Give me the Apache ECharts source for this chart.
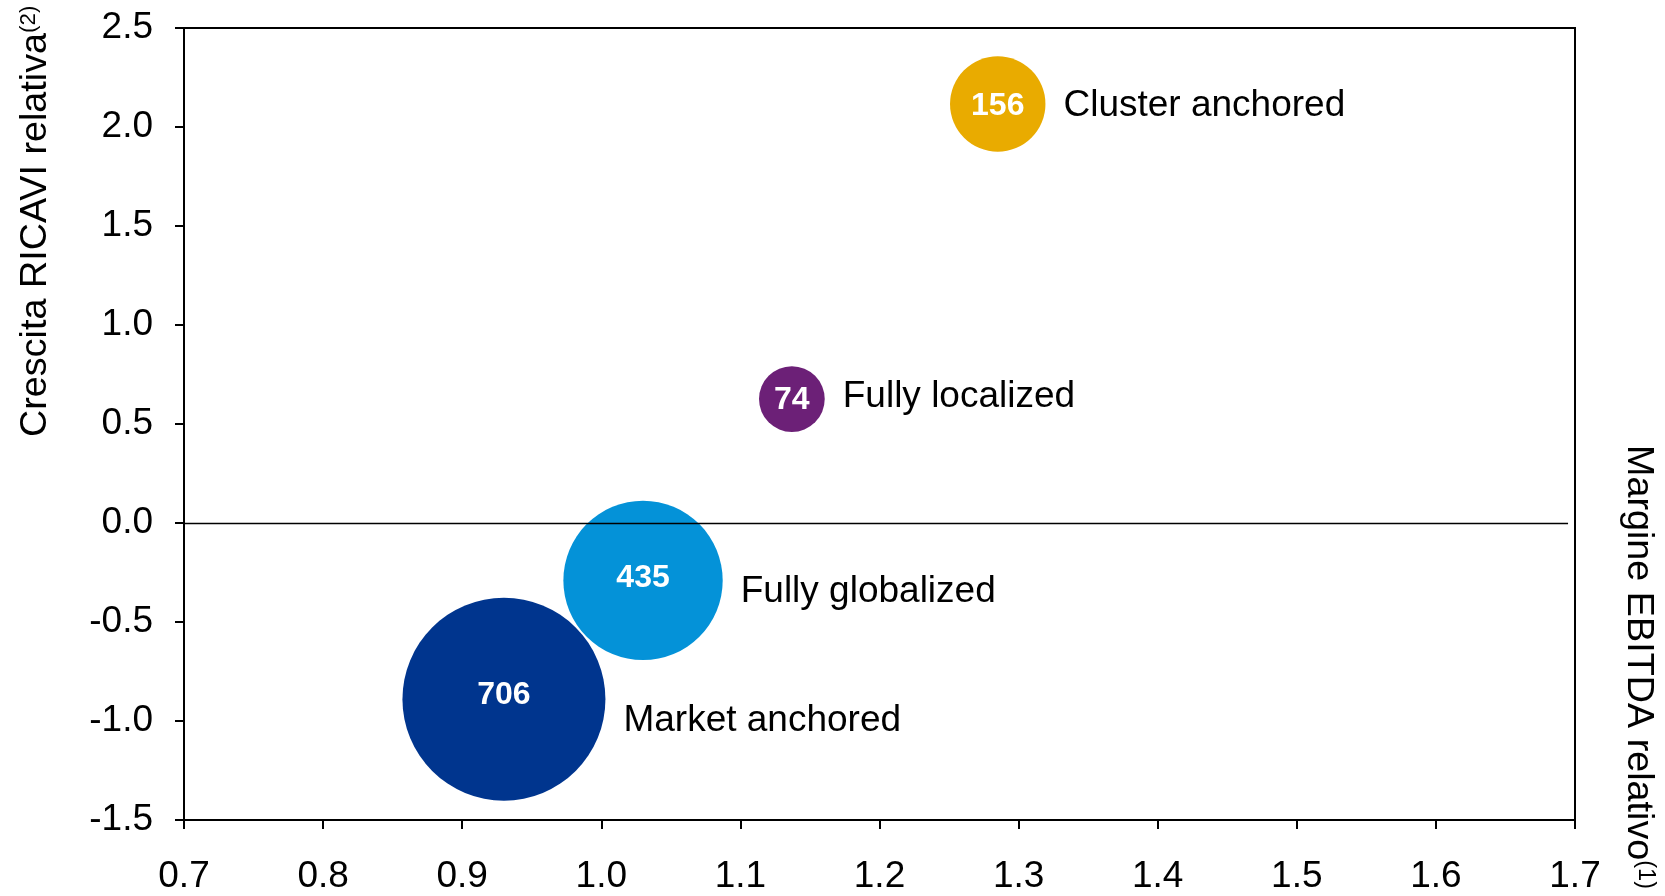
<!DOCTYPE html>
<html>
<head>
    <meta charset="utf-8">
    <title>Margine EBITDA vs crescita ricavi</title>
    <script src="https://cdn.jsdelivr.net/npm/echarts@6/dist/echarts.min.js"></script>
    <style>
        html, body { margin: 0; padding: 0; background: #fff; }
        #chart1 { width: 1665px; height: 896px; }
    </style>
</head>
<body>
<div id="chart1"></div>
<script>
    // dati
    var segments = ['Market anchored', 'Fully globalized', 'Fully localized', 'Cluster anchored'];
    var ebitdaRel = [0.93, 1.03, 1.137, 1.285];      // asse x
    var growthRel = [-0.89, -0.29, 0.626, 2.116];    // asse y
    var companies = [706, 435, 74, 156];             // dimensione bolla

    // stile
    var colors = ['#00358E', '#0492D8', '#6C2077', '#E9AB00'];
    var nameNudge = [22, 11, -2, 2];
    var numNudge = [-4, -2, 1, 2];
    var FONT = '"Liberation Sans", Arial, sans-serif';

    var points = segments.map(function (s, i) {
        return [ebitdaRel[i], growthRel[i], companies[i], s];
    });

    function bubbleSize(v) {
        return 7.64 * Math.sqrt(v[2]);
    }

    var myChart = echarts.init(document.getElementById('chart1'));

    var option = {
        animation: false,
        textStyle: { fontFamily: FONT },
        grid: {
            left: 184, right: 90, top: 28, bottom: 76,
            show: true, borderColor: '#000', borderWidth: 2
        },
        xAxis: {
            type: 'value', min: 0.7, max: 1.7, interval: 0.1,
            axisLine: { onZero: false, lineStyle: { color: '#000', width: 2 } },
            axisTick: { show: true, length: 9, lineStyle: { color: '#000', width: 2 } },
            splitLine: { show: false },
            axisLabel: {
                margin: 38, color: '#000', fontSize: 37, fontFamily: FONT,
                showMinLabel: true, showMaxLabel: true,
                formatter: function (v) { return v.toFixed(1); }
            }
        },
        yAxis: {
            type: 'value', min: -1.5, max: 2.5, interval: 0.5,
            axisLine: { show: true, lineStyle: { color: '#000', width: 2 } },
            axisTick: { show: true, length: 9, lineStyle: { color: '#000', width: 2 } },
            splitLine: { show: false },
            axisLabel: {
                margin: 31, color: '#000', fontSize: 37, fontFamily: FONT,
                showMinLabel: true, showMaxLabel: true,
                formatter: function (v) { return v.toFixed(1); }
            }
        },
        graphic: [
            {
                type: 'text', x: 36, y: 437, rotation: Math.PI / 2, scaleX: 1.02,
                style: {
                    text: '{m|Crescita RICAVI relativa}{s|(2)}',
                    textAlign: 'left', textVerticalAlign: 'middle',
                    rich: {
                        m: { fontSize: 37, fontFamily: FONT, fill: '#000', color: '#000' },
                        s: { fontSize: 22, fontFamily: FONT, fill: '#000', color: '#000', verticalAlign: 'top' }
                    }
                }
            },
            {
                type: 'text', x: 1638, y: 445, rotation: -Math.PI / 2, scaleX: 1.02,
                style: {
                    text: '{m|Margine EBITDA relativo}{s|(1)}',
                    textAlign: 'left', textVerticalAlign: 'middle',
                    rich: {
                        m: { fontSize: 37, fontFamily: FONT, fill: '#000', color: '#000' },
                        s: { fontSize: 23, fontFamily: FONT, fill: '#000', color: '#000', verticalAlign: 'top' }
                    }
                }
            }
        ],
        series: [
            {
                name: 'bolle',
                type: 'scatter',
                data: points.map(function (p, i) {
                    return {
                        value: p,
                        itemStyle: { color: colors[i], opacity: 1 },
                        label: { offset: [0, numNudge[i]] }
                    };
                }),
                symbolSize: bubbleSize,
                label: {
                    show: true, position: 'inside',
                    color: '#fff', fontWeight: 'bold', fontSize: 32, fontFamily: FONT,
                    formatter: function (p) { return p.value[2]; }
                },
                markLine: {
                    silent: true, symbol: 'none', z: 10,
                    lineStyle: { color: '#000', width: 1.3, type: 'solid' },
                    label: { show: false },
                    data: [[{ coord: [0.7, 0] }, { coord: [1.695, 0] }]]
                }
            },
            {
                name: 'nomi',
                type: 'scatter',
                silent: true,
                z: 1,
                data: points.map(function (p, i) {
                    return { value: p, label: { offset: [0, nameNudge[i]] } };
                }),
                symbolSize: bubbleSize,
                itemStyle: { color: 'rgba(0,0,0,0)' },
                label: {
                    show: true, position: 'right', distance: 18, opacity: 1,
                    color: '#000', fontSize: 37, fontFamily: FONT,
                    formatter: function (p) { return p.value[3]; }
                }
            }
        ]
    };

    myChart.setOption(option);
</script>
</body>
</html>
